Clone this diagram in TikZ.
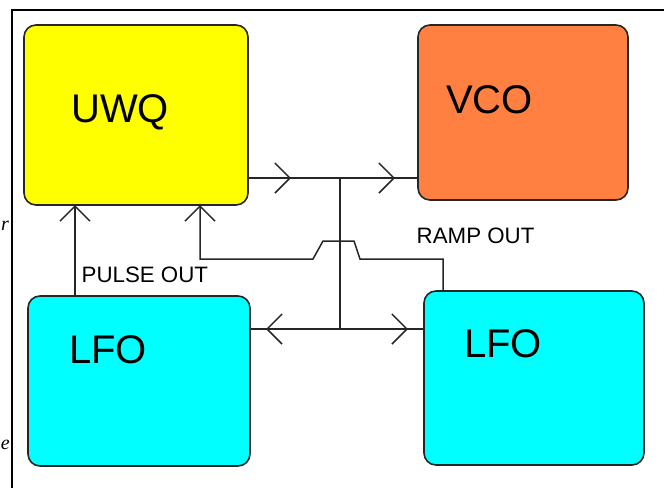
\documentclass[tikz,border=0pt]{standalone}
\usepackage{fontspec}
\setmainfont{Liberation Sans}
\newfontfamily\stray{Liberation Serif}
\usetikzlibrary{arrows.meta,decorations.markings}
\tikzset{
  chev/.tip={Straight Barb[length=15pt,width=30pt]},
  blk/.style={draw=black!85, line width=1.6pt, rounded corners=12pt, inner sep=0pt, outer sep=0pt},
  big/.style={anchor=base west, inner sep=0pt, font=\fontsize{40}{40}\selectfont},
  small/.style={anchor=base west, inner sep=0pt, font=\fontsize{22.3}{22.3}\selectfont},
  strayt/.style={anchor=base east, inner sep=0pt, font=\stray\itshape\fontsize{20}{20}\selectfont},
  wire/.style={line width=1.5pt, draw=black!85},
  midchev/.style={postaction={decorate, decoration={markings, mark=at position #1 with {\arrow[line width=1.5pt, black!85]{chev}}}}}
}
\begin{document}
\begin{tikzpicture}[x=1pt,y=-1pt]
\useasboundingbox (0,0) rectangle (664,488);
\draw[line width=1.5pt] (664,10) -- (12,10) -- (12,488);
\node[strayt] (s1) at (9,230) {r};
\node[strayt] (s2) at (10,449) {e};
% boxes
\node[blk, fill={rgb,255:red,255;green,255;blue,0}, minimum width=224pt, minimum height=180pt] (uwq) at (136,115) {};
\node[blk, fill={rgb,255:red,255;green,128;blue,64}, minimum width=210pt, minimum height=175pt] (vco) at (523,112.5) {};
\node[blk, fill={rgb,255:red,0;green,255;blue,255}, minimum width=222pt, minimum height=170pt] (lfol) at (139,381) {};
\node[blk, fill={rgb,255:red,0;green,255;blue,255}, minimum width=220pt, minimum height=174pt] (lfor) at (534,378) {};
% texts
\node[big] (tuwq) at (71,122) {UWQ};
\node[big] (tvco) at (446,113) {VCO};
\node[big] (tlfol) at (69,363) {LFO};
\node[big] (tlfor) at (464,357) {LFO};
\node[small] (tpulse) at (81.5,282) {PULSE OUT};
\node[small] (tramp) at (416.5,243) {RAMP OUT};
% junctions
\coordinate (j1) at (340,178);
\coordinate (j2) at (340,329);
\coordinate (k) at (200,259);
\coordinate (p) at (75,300);
% connectors
\draw[wire, midchev=43pt, midchev=-23pt] (uwq.east |- j1) -- (vco.west |- j1);
\draw[wire] (j1) -- (j2);
\draw[wire, midchev=-16pt] (j2) -- (lfol.east |- j2);
\draw[wire, midchev=-16pt] (j2) -- (lfor.west |- j2);
\draw[wire, -{chev}] ([xshift=19pt]lfor.north west) -- ++(0,-32) -- (360,259) -- (354,241) -- (323,241) -- (313,259) -- (k) -- (uwq.south -| k);
\draw[wire, -{chev}] (lfol.north -| p) -- (uwq.south -| p);
\end{tikzpicture}
\end{document}
